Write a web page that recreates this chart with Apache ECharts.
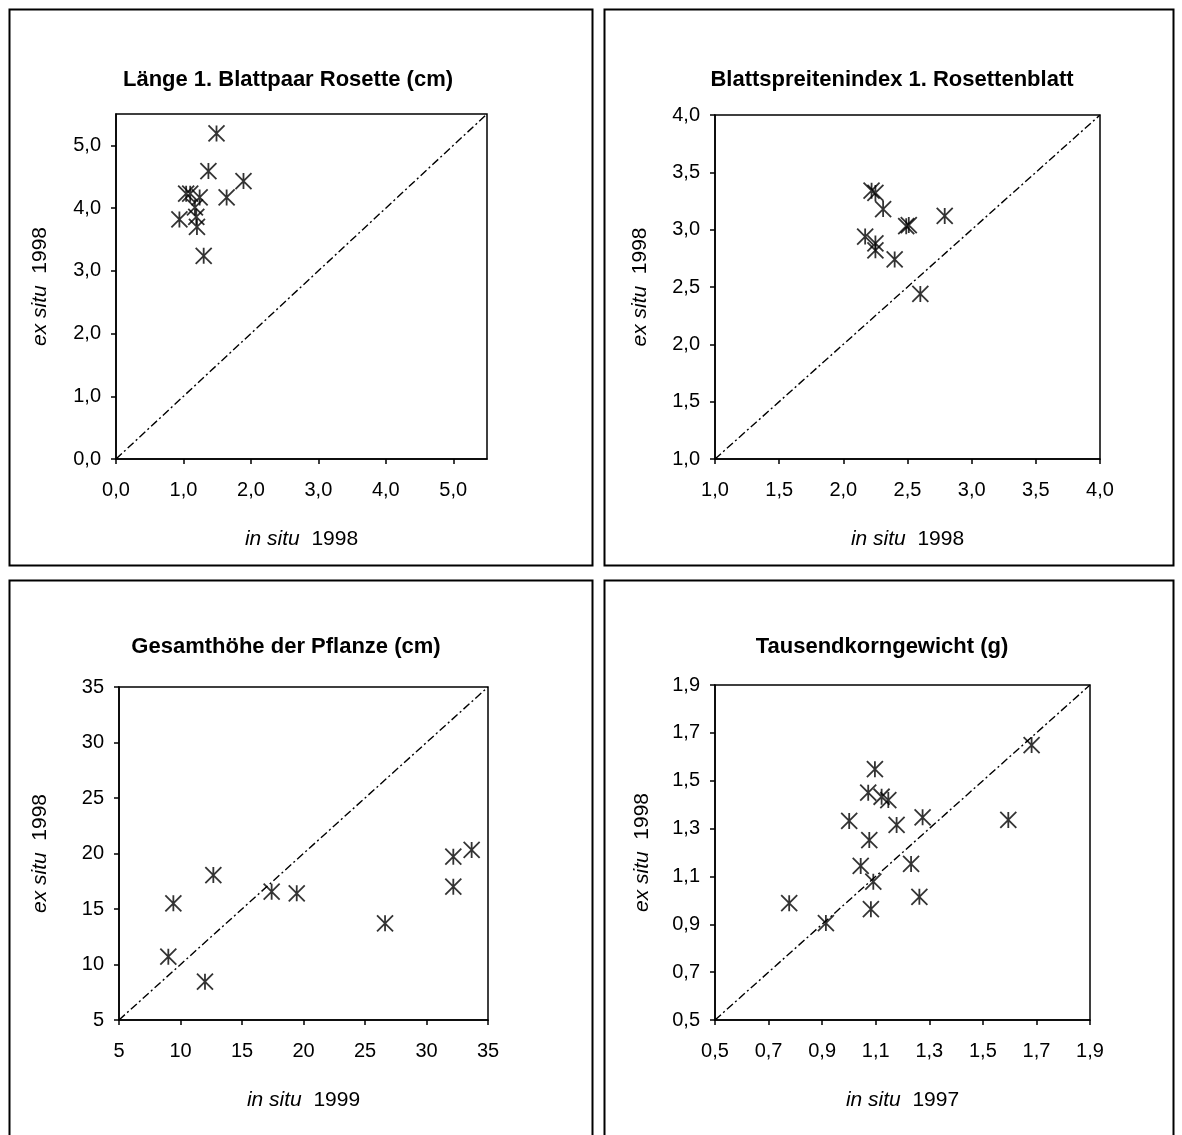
<!DOCTYPE html>
<html>
<head>
<meta charset="utf-8">
<script src="https://cdn.jsdelivr.net/npm/echarts@6/dist/echarts.min.js"></script>
<style>
  html, body { margin: 0; padding: 0; background: #fff; }
  #chart { width: 1182px; height: 1135px; }
</style>
</head>
<body>
<div id="chart"></div>
<script>
// --- Länge 1. Blattpaar Rosette (cm): in situ 1998 vs. ex situ 1998
const laengeInSitu = [1.49, 1.37, 1.89, 1.64, 1.04, 1.10, 1.24, 1.17, 1.19, 0.94, 1.20, 1.30];
const laengeExSitu = [5.19, 4.59, 4.43, 4.17, 4.23, 4.23, 4.17, 4.01, 3.86, 3.82, 3.70, 3.24];
const laengeRange = [0, 5.5];
const laengeTicks = [0, 1, 2, 3, 4, 5];

// --- Blattspreitenindex 1. Rosettenblatt: in situ 1998 vs. ex situ 1998
const indexInSitu = [2.22, 2.25, 2.31, 2.49, 2.51, 2.79, 2.17, 2.25, 2.25, 2.40, 2.60];
const indexExSitu = [3.34, 3.32, 3.18, 3.03, 3.04, 3.12, 2.94, 2.88, 2.82, 2.74, 2.44];
const indexRange = [1, 4];
const indexTicks = [1.0, 1.5, 2.0, 2.5, 3.0, 3.5, 4.0];

// --- Gesamthöhe der Pflanze (cm): in situ 1999 vs. ex situ 1998
const hoeheInSitu = [9.42, 12.67, 9.01, 11.99, 17.41, 19.45, 26.63, 32.18, 33.67, 32.18];
const hoeheExSitu = [15.51, 18.06, 10.70, 8.45, 16.56, 16.41, 13.71, 19.71, 20.32, 17.01];
const hoeheRange = [5, 35];
const hoeheTicks = [5, 10, 15, 20, 25, 30, 35];

// --- Tausendkorngewicht (g): in situ 1997 vs. ex situ 1998
const tkgInSitu = [1.097, 1.072, 1.122, 1.147, 1.001, 1.178, 1.275, 1.076, 1.595, 1.044, 1.232, 1.091, 1.263, 1.082, 0.777, 0.914, 1.682];
const tkgExSitu = [1.548, 1.450, 1.433, 1.419, 1.332, 1.315, 1.347, 1.252, 1.336, 1.144, 1.152, 1.078, 1.015, 0.963, 0.988, 0.905, 1.649];
const tkgRange = [0.5, 1.9];
const tkgTicks = [0.5, 0.7, 0.9, 1.1, 1.3, 1.5, 1.7, 1.9];

const FONT = '"Liberation Sans", Arial, Helvetica, sans-serif';
const TICK_SIZE = 20;
const NAME_SIZE = 21;
const TITLE_SIZE = 22;
// six-armed asterisk: a cross plus a vertical stroke
const ASTERISK = 'path://M0,0L10,10M10,0L0,10M5,0L5,10';

const comma1 = v => Number(v).toFixed(1).replace('.', ',');
const integer = v => String(Math.round(v));

const panels = [
  { title: 'Länge 1. Blattpaar Rosette (cm)', xs: laengeInSitu, ys: laengeExSitu,
    range: laengeRange, ticks: laengeTicks, fmt: comma1, year: '1998',
    grid: { left: 116, top: 114, width: 371, height: 345 },
    box: [9.5, 9.5, 583, 556], titleAt: [288, 80], yNameGap: 65 },
  { title: 'Blattspreitenindex 1. Rosettenblatt', xs: indexInSitu, ys: indexExSitu,
    range: indexRange, ticks: indexTicks, fmt: comma1, year: '1998',
    grid: { left: 715, top: 115, width: 385, height: 344 },
    box: [604.5, 9.5, 569, 556], titleAt: [892, 80], yNameGap: 64 },
  { title: 'Gesamthöhe der Pflanze (cm)', xs: hoeheInSitu, ys: hoeheExSitu,
    range: hoeheRange, ticks: hoeheTicks, fmt: integer, year: '1999',
    grid: { left: 119, top: 687, width: 369, height: 333 },
    box: [9.5, 580.5, 583, 600], titleAt: [286, 647], yNameGap: 68 },
  { title: 'Tausendkorngewicht (g)', xs: tkgInSitu, ys: tkgExSitu,
    range: tkgRange, ticks: tkgTicks, fmt: comma1, year: '1997',
    grid: { left: 715, top: 685, width: 375, height: 335 },
    box: [604.5, 580.5, 569, 600], titleAt: [882, 647], yNameGap: 62 }
];

const labelStyle = { color: '#000', fontFamily: FONT, fontSize: TICK_SIZE };
const nameStyle = {
  color: '#000', fontFamily: FONT, fontSize: NAME_SIZE,
  rich: { i: { fontStyle: 'italic', fontFamily: FONT, fontSize: NAME_SIZE, color: '#000' } }
};

function axis(p, i, isX) {
  return {
    type: 'value',
    gridIndex: i,
    min: p.range[0],
    max: p.range[1],
    name: isX ? '{i|in situ}  ' + p.year : '{i|ex situ}  1998',
    nameLocation: 'middle',
    nameGap: isX ? 70 : p.yNameGap,
    nameTextStyle: nameStyle,
    axisLine: { show: true, onZero: false, lineStyle: { color: '#000', width: 1.5 } },
    axisTick: { show: true, inside: false, length: 5, customValues: p.ticks,
                lineStyle: { color: '#000', width: 1.5 } },
    axisLabel: { show: true, margin: isX ? 21 : 15, customValues: p.ticks,
                 formatter: p.fmt, ...labelStyle },
    splitLine: { show: false }
  };
}

const option = {
  animation: false,
  backgroundColor: '#fff',
  grid: panels.map(p => ({ ...p.grid, show: true, borderColor: '#000', borderWidth: 1.5,
                           backgroundColor: 'transparent', containLabel: false })),
  xAxis: panels.map((p, i) => axis(p, i, true)),
  yAxis: panels.map((p, i) => axis(p, i, false)),
  series: panels.flatMap((p, i) => [
    {
      type: 'line',
      xAxisIndex: i, yAxisIndex: i,
      data: [[p.range[0], p.range[0]], [p.range[1], p.range[1]]],
      showSymbol: false, symbol: 'none', silent: true,
      lineStyle: { color: '#000', width: 1.4, type: [8, 3, 2, 3] },
      z: 2
    },
    {
      type: 'scatter',
      xAxisIndex: i, yAxisIndex: i,
      data: p.xs.map((x, k) => [x, p.ys[k]]),
      symbol: ASTERISK,
      symbolSize: 16,
      silent: true,
      itemStyle: { color: 'transparent', borderColor: '#000', borderWidth: 1.8 },
      z: 3
    }
  ]),
  graphic: panels.flatMap(p => [
    { type: 'rect', silent: true, z: -1,
      shape: { x: p.box[0], y: p.box[1], width: p.box[2], height: p.box[3] },
      style: { fill: 'none', stroke: '#000', lineWidth: 2 } },
    { type: 'text', silent: true, x: p.titleAt[0], y: p.titleAt[1],
      style: { text: p.title, fill: '#000', font: 'bold ' + TITLE_SIZE + 'px ' + FONT,
               align: 'center', verticalAlign: 'middle' } }
  ])
};

const chart = echarts.init(document.getElementById('chart'), null, { renderer: 'canvas' });
chart.setOption(option);
</script>
</body>
</html>
